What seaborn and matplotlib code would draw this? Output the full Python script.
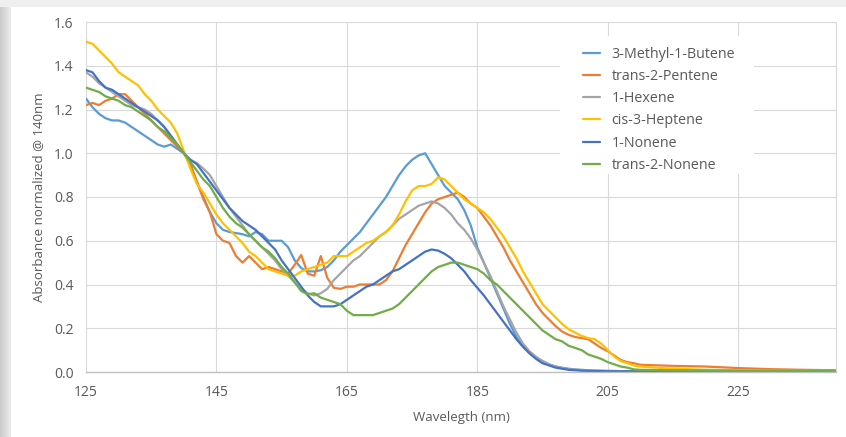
import numpy as np
import pandas as pd
import matplotlib
matplotlib.use("Agg")
import matplotlib.pyplot as plt
from matplotlib.lines import Line2D
from matplotlib.patches import Rectangle
import seaborn as sns

# ---------------- data ----------------
wavelength = list(range(125, 211)) + [215, 220, 225, 230, 235, 240]

series_names = ["3-Methyl-1-Butene", "trans-2-Pentene", "1-Hexene",
                "cis-3-Heptene", "1-Nonene", "trans-2-Nonene"]

methyl_butene = [
    1.25, 1.21, 1.18, 1.16, 1.15, 1.15, 1.14, 1.12, 1.10, 1.08,
    1.06, 1.04, 1.03, 1.04, 1.02, 1.00, 0.95, 0.87, 0.80, 0.73,
    0.68, 0.65, 0.64, 0.635, 0.63, 0.62, 0.64, 0.63, 0.60, 0.60,
    0.60, 0.57, 0.51, 0.475, 0.46, 0.46, 0.465, 0.48, 0.51, 0.55,
    0.58, 0.61, 0.64, 0.68, 0.72, 0.76, 0.80, 0.85, 0.90, 0.94,
    0.97, 0.99, 1.00, 0.95, 0.90, 0.85, 0.82, 0.79, 0.74, 0.67,
    0.57, 0.50, 0.43, 0.36, 0.29, 0.22, 0.16, 0.12, 0.09, 0.065,
    0.05, 0.035, 0.025, 0.02, 0.015, 0.012, 0.01, 0.008, 0.007, 0.006,
    0.005, 0.005, 0.004, 0.004, 0.004, 0.004,
    0.004, 0.003, 0.003, 0.003, 0.003, 0.003]

trans2_pentene = [
    1.22, 1.23, 1.22, 1.24, 1.25, 1.27, 1.27, 1.24, 1.21, 1.18,
    1.15, 1.12, 1.09, 1.06, 1.03, 1.00, 0.95, 0.87, 0.79, 0.73,
    0.63, 0.60, 0.59, 0.53, 0.50, 0.53, 0.50, 0.47, 0.48, 0.47,
    0.46, 0.45, 0.49, 0.535, 0.45, 0.44, 0.53, 0.43, 0.385, 0.38,
    0.39, 0.39, 0.40, 0.40, 0.40, 0.40, 0.42, 0.46, 0.52, 0.58,
    0.63, 0.68, 0.73, 0.77, 0.79, 0.80, 0.81, 0.82, 0.80, 0.77,
    0.75, 0.71, 0.67, 0.62, 0.57, 0.51, 0.46, 0.41, 0.36, 0.31,
    0.27, 0.24, 0.21, 0.185, 0.17, 0.16, 0.155, 0.15, 0.13, 0.11,
    0.095, 0.075, 0.055, 0.045, 0.04, 0.033,
    0.028, 0.025, 0.018, 0.013, 0.01, 0.008]

hexene = [
    1.37, 1.35, 1.32, 1.30, 1.28, 1.26, 1.24, 1.22, 1.21, 1.20,
    1.18, 1.15, 1.12, 1.08, 1.04, 1.00, 0.97, 0.955, 0.93, 0.90,
    0.85, 0.80, 0.75, 0.71, 0.67, 0.63, 0.60, 0.57, 0.54, 0.51,
    0.47, 0.44, 0.41, 0.38, 0.36, 0.35, 0.36, 0.38, 0.42, 0.45,
    0.48, 0.51, 0.53, 0.56, 0.59, 0.62, 0.64, 0.67, 0.70, 0.72,
    0.74, 0.76, 0.77, 0.78, 0.77, 0.75, 0.72, 0.68, 0.65, 0.61,
    0.56, 0.50, 0.44, 0.37, 0.30, 0.24, 0.18, 0.13, 0.095, 0.07,
    0.05, 0.035, 0.025, 0.018, 0.013, 0.01, 0.008, 0.007, 0.006, 0.005,
    0.005, 0.004, 0.004, 0.004, 0.004, 0.004,
    0.003, 0.003, 0.003, 0.003, 0.003, 0.003]

cis3_heptene = [
    1.51, 1.50, 1.47, 1.44, 1.41, 1.37, 1.35, 1.33, 1.31, 1.27,
    1.24, 1.20, 1.17, 1.14, 1.09, 1.01, 0.93, 0.86, 0.82, 0.77,
    0.72, 0.68, 0.65, 0.62, 0.59, 0.55, 0.53, 0.50, 0.47, 0.46,
    0.45, 0.44, 0.44, 0.46, 0.47, 0.48, 0.49, 0.50, 0.53, 0.53,
    0.53, 0.55, 0.57, 0.59, 0.60, 0.62, 0.64, 0.67, 0.72, 0.78,
    0.83, 0.85, 0.85, 0.86, 0.89, 0.88, 0.85, 0.82, 0.79, 0.77,
    0.75, 0.73, 0.70, 0.66, 0.62, 0.57, 0.52, 0.46, 0.41, 0.36,
    0.31, 0.28, 0.25, 0.22, 0.195, 0.18, 0.165, 0.155, 0.15, 0.13,
    0.10, 0.07, 0.05, 0.04, 0.03, 0.025,
    0.015, 0.01, 0.008, 0.007, 0.006, 0.005]

nonene = [
    1.38, 1.37, 1.33, 1.30, 1.29, 1.27, 1.25, 1.23, 1.21, 1.19,
    1.17, 1.15, 1.12, 1.08, 1.04, 1.00, 0.97, 0.95, 0.91, 0.87,
    0.83, 0.79, 0.75, 0.72, 0.69, 0.67, 0.65, 0.62, 0.59, 0.56,
    0.51, 0.47, 0.43, 0.39, 0.35, 0.32, 0.30, 0.30, 0.30, 0.31,
    0.33, 0.35, 0.37, 0.39, 0.40, 0.42, 0.44, 0.46, 0.47, 0.49,
    0.51, 0.53, 0.55, 0.56, 0.555, 0.54, 0.52, 0.49, 0.46, 0.42,
    0.385, 0.35, 0.31, 0.27, 0.23, 0.19, 0.15, 0.115, 0.085, 0.06,
    0.04, 0.03, 0.02, 0.015, 0.01, 0.008, 0.006, 0.005, 0.004, 0.004,
    0.003, 0.003, 0.003, 0.003, 0.003, 0.003,
    0.003, 0.003, 0.003, 0.003, 0.003, 0.003]

trans2_nonene = [
    1.30, 1.29, 1.28, 1.26, 1.25, 1.24, 1.22, 1.21, 1.19, 1.17,
    1.15, 1.12, 1.10, 1.07, 1.04, 1.00, 0.96, 0.92, 0.88, 0.85,
    0.80, 0.75, 0.71, 0.68, 0.66, 0.63, 0.60, 0.57, 0.55, 0.52,
    0.48, 0.45, 0.41, 0.37, 0.355, 0.36, 0.34, 0.33, 0.32, 0.31,
    0.28, 0.26, 0.26, 0.26, 0.26, 0.27, 0.28, 0.29, 0.31, 0.34,
    0.37, 0.40, 0.43, 0.46, 0.48, 0.49, 0.50, 0.50, 0.49, 0.48,
    0.47, 0.45, 0.42, 0.40, 0.37, 0.34, 0.31, 0.28, 0.25, 0.22,
    0.19, 0.17, 0.15, 0.14, 0.12, 0.11, 0.10, 0.08, 0.07, 0.06,
    0.045, 0.035, 0.025, 0.02, 0.012, 0.01,
    0.008, 0.007, 0.006, 0.006, 0.006, 0.006]

x_ticks = [125, 145, 165, 185, 205, 225]
y_ticks = [0.0, 0.2, 0.4, 0.6, 0.8, 1.0, 1.2, 1.4, 1.6]
y_tick_labels = ["0.0", "0.2", "0.4", "0.6", "0.8", "1.0", "1.2", "1.4", "1.6"]

colors = ["#5B9BD5", "#ED7D31", "#A5A5A5", "#FFC000", "#4472C4", "#70AD47"]

# ---------------- build long table ----------------
all_series = [methyl_butene, trans2_pentene, hexene, cis3_heptene, nonene, trans2_nonene]
frames = []
for name, vals in zip(series_names, all_series):
    frames.append(pd.DataFrame({"Wavelength": wavelength, "Absorbance": vals, "Compound": name}))
df = pd.concat(frames, ignore_index=True)

# ---------------- style ----------------
sns.set_theme(style="white")
plt.rcParams["font.family"] = ["Open Sans", "DejaVu Sans"]
text_color = "#595959"

fig = plt.figure(figsize=(8.46, 4.37), dpi=100)
fig.patch.set_facecolor("#efefef")

# background: left gradient strip and white panel
bg = fig.add_axes([0, 0, 1, 1], zorder=-10)
bg.axis("off")
grad = np.linspace(0.80, 0.93, 12)
bg.imshow(np.tile(grad, (10, 1)), cmap="gray", vmin=0, vmax=1,
          extent=[0, 12, 437, 7], aspect="auto")
bg.add_patch(Rectangle((11, 7), 835, 430, facecolor="white", edgecolor="none"))
bg.set_xlim(0, 846)
bg.set_ylim(437, 0)

ax = fig.add_axes([86 / 846, 1 - 372 / 437, 750 / 846, 350 / 437])
ax.set_facecolor("none")

sns.lineplot(data=df, x="Wavelength", y="Absorbance", hue="Compound",
             hue_order=series_names, palette=colors, linewidth=1.6,
             estimator=None, sort=False, legend=False, ax=ax)

ax.set_xlim(125, 240)
ax.set_ylim(0, 1.6)
ax.set_xticks(x_ticks)
ax.set_yticks(y_ticks)
ax.set_yticklabels(y_tick_labels)
ax.grid(True, color="#d9d9d9", linewidth=0.8)
ax.set_axisbelow(True)
ax.tick_params(axis="both", length=0, colors=text_color, labelsize=10)
ax.tick_params(axis="y", pad=9)
ax.tick_params(axis="x", pad=9)
for side in ["top", "left"]:
    ax.spines[side].set_visible(False)
ax.spines["bottom"].set_color("#bfbfbf")
ax.spines["bottom"].set_linewidth(1.0)
ax.spines["right"].set_color("#d9d9d9")
ax.spines["right"].set_linewidth(0.8)

ax.set_xlabel("Wavelegth (nm)", color=text_color, fontsize=9.5, labelpad=8)
ax.set_ylabel("Absorbance normalized @ 140nm", color=text_color, fontsize=9.5, labelpad=6)

# legend white backing (covers gridlines, like the original)
ax.add_patch(Rectangle(((560 - 86) / 750, (372 - 174) / 350), 194 / 750, 138 / 350,
                       transform=ax.transAxes, facecolor="white", edgecolor="none", zorder=1))
handles = [Line2D([0], [0], color=c, lw=1.6) for c in colors]
leg = ax.legend(handles, series_names, loc="upper left",
                bbox_to_anchor=((583 - 86) / 750, (372 - 47) / 350),
                frameon=False, fontsize=10.3, handlelength=1.2, handletextpad=0.8,
                labelspacing=0.5, borderpad=0, borderaxespad=0)
for t in leg.get_texts():
    t.set_color(text_color)

fig.savefig("out.png", dpi=100, facecolor=fig.get_facecolor())
